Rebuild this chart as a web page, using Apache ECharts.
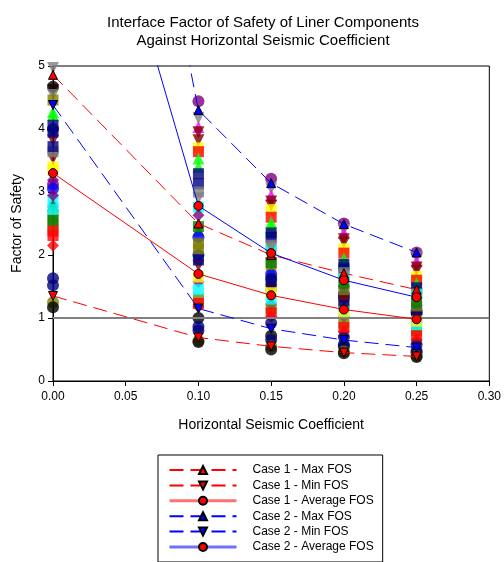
<!DOCTYPE html>
<html>
<head>
<meta charset="utf-8">
<script src="https://cdn.jsdelivr.net/npm/echarts@6/dist/echarts.min.js"></script>
<style>
html,body{margin:0;padding:0;background:#fff;}
#chart{width:504px;height:562px;}
</style>
</head>
<body>
<div id="chart"></div>
<script>
// ---- data ----
const xValues = [0, 0.10, 0.15, 0.20, 0.25];
const xTicks = [0, 0.05, 0.10, 0.15, 0.20, 0.25, 0.30];
const yTicks = [0, 1, 2, 3, 4, 5];

const case1Max = [4.86, 2.50, 2.00, 1.71, 1.45];
const case1Min = [1.35, 0.69, 0.55, 0.45, 0.39];
const case1Avg = [3.30, 1.70, 1.36, 1.135, 0.98];
const case2Max = [16.0, 4.30, 3.14, 2.49, 2.04];
const case2Min = [4.38, 1.15, 0.83, 0.65, 0.53];
const case2Avg = [10.7, 2.78, 2.03, 1.60, 1.33];

const lineNames = ['Case 1 - Max FOS', 'Case 1 - Min FOS', 'Case 1 - Average FOS',
                   'Case 2 - Max FOS', 'Case 2 - Min FOS', 'Case 2 - Average FOS'];

// individual interface results (one row per interface, values at xValues)
const pointColors = ['#800080', '#808080', '#ff00ff', '#800000', '#800000', '#ffff00', '#ff0000',
  '#00ff00', '#00ff00', '#000080', '#000080', '#808080', '#00ffff', '#800080', '#008000',
  '#0000ff', '#808000', '#000080', '#800000', '#800080', '#808000', '#ff0000', '#000000',
  '#000080', '#808000', '#000000',
  '#808080', '#808000', '#000080', '#00ffff', '#000080', '#008000', '#ffff00', '#ff0000'];
const pointSymbols = ['circle', 'tridown', 'triangle', 'tridown', 'tridown', 'rect', 'rect',
  'triangle', 'triangle', 'rect', 'rect', 'rect', 'rect', 'diamond', 'triangle',
  'circle', 'rect', 'circle', 'tridown', 'diamond', 'rect', 'diamond', 'circle',
  'circle', 'circle', 'circle',
  'tridown', 'rect', 'rect', 'rect', 'circle', 'rect', 'rect', 'rect'];
const pointValues = [
  [3.12, 4.44, 3.21, 2.50, 2.04],
  [4.97, 4.17, 3.05, 2.40, 1.97],
  [2.85, 4.03, 2.95, 2.35, 1.90],
  [3.82, 3.95, 2.85, 2.25, 1.80],
  [3.53, 3.82, 2.78, 2.20, 1.75],
  [3.40, 3.70, 2.72, 2.10, 1.66],
  [2.31, 3.64, 2.60, 2.03, 1.60],
  [4.27, 3.53, 2.52, 1.95, 1.55],
  [4.22, 3.40, 2.45, 1.90, 1.50],
  [4.06, 3.29, 2.35, 1.85, 1.48],
  [3.95, 3.13, 2.28, 1.78, 1.40],
  [3.64, 3.00, 2.15, 1.72, 1.36],
  [2.87, 2.76, 2.08, 1.65, 1.38],
  [3.19, 2.63, 1.95, 1.50, 1.20],
  [2.79, 2.39, 1.75, 1.42, 1.15],
  [3.05, 2.28, 1.70, 1.38, 1.12],
  [2.63, 2.18, 1.50, 1.25, 1.05],
  [1.63, 2.00, 1.62, 1.32, 1.08],
  [4.62, 1.83, 1.45, 1.28, 1.00],
  [2.95, 1.57, 1.22, 1.02, 0.92],
  [2.47, 1.30, 1.15, 0.92, 0.80],
  [2.15, 1.18, 1.02, 0.78, 0.65],
  [4.67, 1.00, 0.72, 0.55, 0.45],
  [1.52, 0.80, 0.65, 0.58, 0.48],
  [1.25, 0.64, 0.55, 0.47, 0.40],
  [1.17, 0.62, 0.50, 0.44, 0.38],
  [4.54, 2.90, 2.12, 1.68, 1.30],
  [4.46, 2.10, 1.85, 1.45, 1.18],
  [3.72, 1.92, 1.58, 1.20, 1.02],
  [2.72, 1.45, 1.30, 1.10, 0.88],
  [4.00, 0.86, 0.92, 0.70, 0.58],
  [2.55, 2.45, 1.88, 1.55, 1.25],
  [3.35, 1.65, 1.40, 1.08, 0.95],
  [2.38, 1.23, 1.08, 0.85, 0.72]
];
const fosLabelPoint = [[0.057, 1]];

// ---- build ----
const series = [];
pointValues.forEach(function (vals, i) {
  const sym = pointSymbols[i];
  series.push({
    type: 'scatter',
    name: 'p' + i,
    symbol: sym === 'tridown' ? 'triangle' : sym,
    symbolRotate: sym === 'tridown' ? 180 : 0,
    symbolSize: sym === 'rect' ? 11 : 12,
    itemStyle: { color: pointColors[i] },
    data: xValues.map(function (x, j) { return [x, vals[j]]; }),
    z: 2,
    silent: true
  });
});

series.push({
  type: 'line',
  name: 'fos',
  data: fosLabelPoint,
  symbol: 'none',
  lineStyle: { opacity: 0 },
  markLine: {
    silent: true,
    symbol: 'none',
    lineStyle: { color: '#808080', width: 2, type: 'solid' },
    label: { show: false },
    data: [{ yAxis: 1 }]
  },
  label: {
    show: true, position: 'top', distance: 6,
    formatter: 'FOS = 1', color: '#000', fontSize: 12, fontFamily: 'Liberation Sans, Arial, sans-serif'
  },
  z: 3
});

function lineSeries(name, vals, color, dashed, symbol, rotate) {
  return {
    type: 'line',
    name: name,
    data: xValues.map(function (x, j) { return [x, vals[j]]; }),
    symbol: symbol,
    symbolRotate: rotate,
    symbolSize: 9,
    showAllSymbol: true,
    clip: true,
    lineStyle: { color: color, width: 1, type: dashed ? [14, 7] : 'solid' },
    itemStyle: { color: symbol === 'circle' ? '#ff0000' : color, borderColor: '#000', borderWidth: 1 },
    z: 5
  };
}
series.push(lineSeries(lineNames[0], case1Max, '#ff0000', true, 'triangle', 0));
series.push(lineSeries(lineNames[1], case1Min, '#ff0000', true, 'triangle', 180));
series.push(lineSeries(lineNames[2], case1Avg, '#ff0000', false, 'circle', 0));
series.push(lineSeries(lineNames[3], case2Max, '#0000ff', true, 'triangle', 0));
series.push(lineSeries(lineNames[4], case2Min, '#0000ff', true, 'triangle', 180));
series.push(lineSeries(lineNames[5], case2Avg, '#0000ff', false, 'circle', 0));

const font = 'Liberation Sans, Arial, sans-serif';
const chart = echarts.init(document.getElementById('chart'));
chart.setOption({
  animation: false,
  backgroundColor: '#fff',
  textStyle: { fontFamily: font, color: '#000' },
  title: {
    text: 'Interface Factor of Safety of Liner Components\nAgainst Horizontal Seismic Coefficient',
    left: 258, textAlign: 'center', top: 9,
    textStyle: { fontFamily: font, fontSize: 15, fontWeight: 'normal', color: '#000', lineHeight: 18 }
  },
  grid: { left: 53, top: 66, right: 12, bottom: 181, show: true, borderColor: '#000', borderWidth: 1, backgroundColor: 'transparent' },
  xAxis: {
    type: 'value', min: xTicks[0], max: xTicks[xTicks.length - 1], interval: 0.05,
    name: 'Horizontal Seismic Coefficient', nameLocation: 'middle', nameGap: 37,
    nameTextStyle: { fontSize: 14, color: '#000', fontFamily: font },
    axisLine: { lineStyle: { color: '#000', width: 1 } },
    axisTick: { show: true, length: 5, lineStyle: { color: '#000' } },
    axisLabel: { fontSize: 12, color: '#000', margin: 10, formatter: function (v) { return v.toFixed(2); } },
    splitLine: { show: false }
  },
  yAxis: {
    type: 'value', min: yTicks[0], max: yTicks[yTicks.length - 1], interval: 1,
    name: 'Factor of Safety', nameLocation: 'middle', nameGap: 29,
    nameTextStyle: { fontSize: 14, color: '#000', fontFamily: font },
    axisLine: { lineStyle: { color: '#000', width: 1 } },
    axisTick: { show: true, length: 5, lineStyle: { color: '#000' } },
    axisLabel: { fontSize: 12, color: '#000', margin: 8 },
    splitLine: { show: false }
  },
  legend: {
    data: [
      { name: lineNames[0] },
      { name: lineNames[1] },
      { name: lineNames[2], lineStyle: { color: '#ff7070', width: 3 } },
      { name: lineNames[3] },
      { name: lineNames[4] },
      { name: lineNames[5], lineStyle: { color: '#7070ff', width: 3 } }
    ],
    orient: 'vertical',
    left: 158, top: 455,
    padding: [8, 9, 8, 10],
    borderColor: '#000', borderWidth: 1,
    itemWidth: 67, itemHeight: 10, itemGap: 1.4,
    textStyle: { fontSize: 12, color: '#000', fontFamily: font, lineHeight: 14, padding: [0, 0, 0, 11] },
    selectedMode: false
  },
  series: series
});
</script>
</body>
</html>
